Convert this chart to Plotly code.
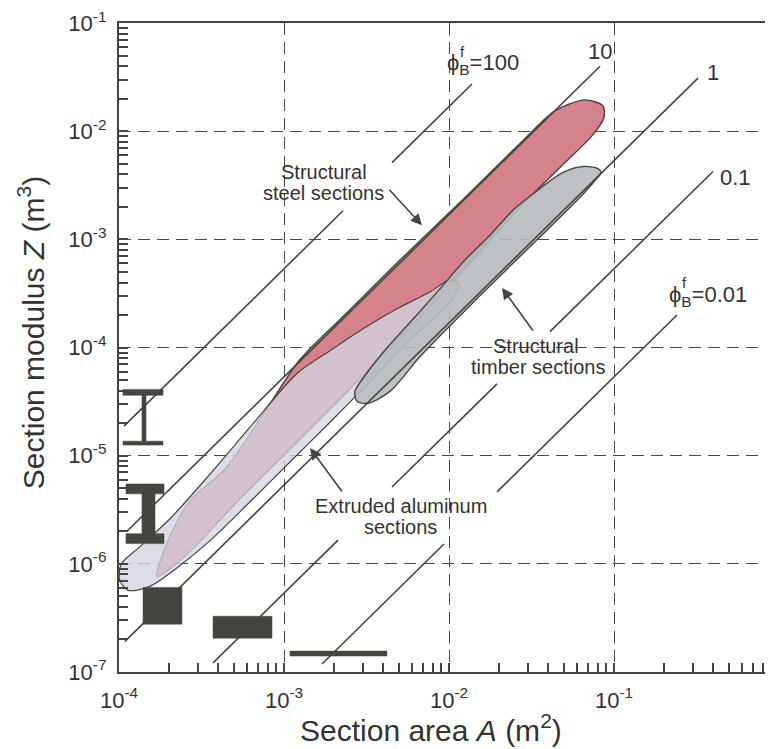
import math
import plotly.graph_objects as go

# ---------------- data ----------------
# x-range of the visible plot (log10 of A), y-range (log10 of Z)
x_log_range = [-4.0, -0.0364]
y_log_range = [-7.0, -0.998]

x_tick_vals = [1e-4, 1e-3, 1e-2, 1e-1]
x_tick_text = ["10<sup>-4</sup>", "10<sup>-3</sup>", "10<sup>-2</sup>", "10<sup>-1</sup>"]
y_tick_vals = [1e-7, 1e-6, 1e-5, 1e-4, 1e-3, 1e-2, 1e-1]
y_tick_text = ["10<sup>-7</sup>", "10<sup>-6</sup>", "10<sup>-5</sup>", "10<sup>-4</sup>",
               "10<sup>-3</sup>", "10<sup>-2</sup>", "10<sup>-1</sup>"]

# shape-factor guide lines  Z = phi * A^1.5 / line_const
phi_values = [100, 10, 1, 0.1, 0.01]
line_const = 5.9
phi100_segments = [(1.072e-4, 2.278e-3), (4.514e-3, 1.378e-2)]
phi10_segments = [(1.118e-4, 8.226e-2)]
phi1_segments = [(1.087e-4, 0.3229)]
phi01_segments = [(3.714e-4, 2.125e-3), (4.514e-3, 1.953e-2), (4.093e-2, 0.3981)]
phi001_segments = [(1.699e-3, 9.326e-3), (1.953e-2, 0.2408)]

# envelopes (log10 A, log10 Z) traced round the outline
steel_logA = [-3.770, -3.703, -3.570, -3.358, -3.115, -2.903, -2.600, -2.297, -1.933, -1.570,
              -1.358, -1.176, -1.067, -1.061, -1.133, -1.297, -1.570, -1.933, -2.297, -2.661,
              -2.964, -3.267, -3.539, -3.691]
steel_logZ = [-6.116, -5.785, -5.417, -5.123, -4.589, -4.110, -3.650, -3.190, -2.656, -2.113,
              -1.810, -1.709, -1.764, -1.874, -2.040, -2.288, -2.702, -3.319, -3.908, -4.478,
              -4.939, -5.399, -5.840, -6.043]

alu_logA = [-3.995, -3.988, -3.873, -3.691, -3.448, -3.206, -2.921, -2.721, -2.521, -2.315,
            -2.115, -1.994, -1.939, -1.994, -2.236, -2.479, -2.721, -2.964, -3.206, -3.448,
            -3.661, -3.812, -3.945]
alu_logZ = [-6.153, -6.006, -5.840, -5.583, -5.169, -4.736, -4.239, -4.028, -3.825, -3.641,
            -3.485, -3.374, -3.420, -3.577, -3.926, -4.313, -4.690, -5.058, -5.426, -5.785,
            -6.052, -6.208, -6.245]

timber_logA = [-1.097, -1.188, -1.309, -1.448, -1.600, -1.752, -1.915, -2.055, -2.194, -2.358,
               -2.491, -2.570, -2.558, -2.491, -2.358, -2.176, -1.994, -1.691, -1.388, -1.206,
               -1.115, -1.079]
timber_logZ = [-2.344, -2.325, -2.380, -2.528, -2.712, -2.960, -3.209, -3.457, -3.696, -3.972,
               -4.221, -4.405, -4.497, -4.515, -4.405, -4.083, -3.797, -3.337, -2.886, -2.610,
               -2.454, -2.380]

# I-section icons: flange A range, web A range, Z levels (top, under top flange, over bottom flange, bottom)
ibeam1_flangeA = [1.057e-4, 1.848e-4]
ibeam1_webA = [1.378e-4, 1.458e-4]
ibeam1_Z = [4.108e-5, 3.617e-5, 1.365e-5, 1.254e-5]
ibeam2_flangeA = [1.102e-4, 1.874e-4]
ibeam2_webA = [1.378e-4, 1.653e-4]
ibeam2_Z = [5.487e-6, 4.440e-6, 1.902e-6, 1.539e-6]

# solid rectangular section icons: A range, Z range
rect_A = [[1.398e-4, 2.408e-4], [3.714e-4, 8.457e-4], [1.087e-3, 4.209e-3]]
rect_Z = [[2.766e-7, 6.059e-7], [2.056e-7, 3.277e-7], [1.404e-7, 1.561e-7]]

# ---------------- styling ----------------
INK = "#45453f"
TXT = "#333331"
FONT = "Liberation Sans, Arial, Helvetica, sans-serif"

fig = go.Figure()


def closed(vals):
    return list(vals) + [vals[0]]


# envelopes: steel (red), aluminium (translucent light blue-grey on top), timber (grey)
fig.add_trace(go.Scatter(
    x=[10 ** v for v in closed(steel_logA)], y=[10 ** v for v in closed(steel_logZ)],
    mode="lines", fill="toself", fillcolor="rgb(214,130,140)",
    line=dict(color=INK, width=1.4, shape="spline", smoothing=0.8), hoverinfo="skip"))
fig.add_trace(go.Scatter(
    x=[10 ** v for v in closed(alu_logA)], y=[10 ** v for v in closed(alu_logZ)],
    mode="lines", fill="toself", fillcolor="rgba(212,212,224,0.78)",
    line=dict(color=INK, width=1.2, shape="spline", smoothing=0.8), hoverinfo="skip"))
fig.add_trace(go.Scatter(
    x=[10 ** v for v in closed(timber_logA)], y=[10 ** v for v in closed(timber_logZ)],
    mode="lines", fill="toself", fillcolor="rgba(182,186,188,0.9)",
    line=dict(color=INK, width=1.4, shape="spline", smoothing=0.8), hoverinfo="skip"))

# guide lines
all_segments = [phi100_segments, phi10_segments, phi1_segments, phi01_segments, phi001_segments]
for phi, segs in zip(phi_values, all_segments):
    xs, ys = [], []
    for a0, a1 in segs:
        for a in (a0, a1):
            xs.append(a)
            ys.append(phi * a ** 1.5 / line_const)
        xs.append(None)
        ys.append(None)
    fig.add_trace(go.Scatter(x=xs, y=ys, mode="lines", line=dict(color=INK, width=1.6),
                             hoverinfo="skip"))


# I-section icons
def ibeam(fa, wa, z):
    xs = [fa[0], fa[1], fa[1], wa[1], wa[1], fa[1], fa[1], fa[0], fa[0], wa[0], wa[0], fa[0], fa[0]]
    ys = [z[0], z[0], z[1], z[1], z[2], z[2], z[3], z[3], z[2], z[2], z[1], z[1], z[0]]
    return xs, ys


for fa, wa, z in [(ibeam1_flangeA, ibeam1_webA, ibeam1_Z), (ibeam2_flangeA, ibeam2_webA, ibeam2_Z)]:
    xs, ys = ibeam(fa, wa, z)
    fig.add_trace(go.Scatter(x=xs, y=ys, mode="lines", fill="toself", fillcolor=INK,
                             line=dict(color=INK, width=0.5), hoverinfo="skip"))

for ra, rz in zip(rect_A, rect_Z):
    fig.add_trace(go.Scatter(x=[ra[0], ra[1], ra[1], ra[0], ra[0]],
                             y=[rz[0], rz[0], rz[1], rz[1], rz[0]],
                             mode="lines", fill="toself", fillcolor=INK,
                             line=dict(color=INK, width=0.5), hoverinfo="skip"))

# ---------------- annotations ----------------
ann = []


def text(x, y, s, size=20, xanchor="center", yanchor="middle"):
    ann.append(dict(x=x, y=y, xref="x", yref="y", text=s, showarrow=False,
                    xanchor=xanchor, yanchor=yanchor,
                    font=dict(family=FONT, size=size, color=TXT)))


def arrow(x, y, ax, ay):
    ann.append(dict(x=x, y=y, xref="x", yref="y", text="", showarrow=True, ax=ax, ay=ay,
                    arrowhead=2, arrowsize=1.4, arrowwidth=1.6, arrowcolor=INK))


text(-2.758, -2.380, "Structural")
text(-2.758, -2.569, "steel sections")
text(-1.473, -3.986, "Structural")
text(-1.455, -4.180, "timber sections")
text(-2.291, -5.463, "Extruded aluminum")
text(-2.291, -5.656, "sections")

text(-2.024, -1.377, "ϕ<sub>B</sub>=100", size=22, xanchor="left")
text(-1.945, -1.262, "f", size=15, xanchor="left")
text(-1.085, -1.258, "10", size=22)
text(-0.400, -1.460, "1", size=22)
text(-0.261, -2.426, "0.1", size=22)
text(-0.679, -3.521, "ϕ<sub>B</sub>=0.01", size=22, xanchor="left")
text(-0.600, -3.398, "f", size=15, xanchor="left")

arrow(-2.164, -2.868, -34, -37)
arrow(-1.679, -3.448, 32, 44)
arrow(-2.842, -4.929, 33, 45)

# axis titles
ann.append(dict(x=0.477, y=-0.087, xref="paper", yref="paper", showarrow=False,
                text="Section area <i>A</i> (m<sup>2</sup>)", xanchor="center", yanchor="middle",
                font=dict(family=FONT, size=30, color=TXT)))
ann.append(dict(x=-0.135, y=0.523, xref="paper", yref="paper", showarrow=False, textangle=-90,
                text="Section modulus <i>Z</i> (m<sup>3</sup>)", xanchor="center", yanchor="middle",
                font=dict(family=FONT, size=30, color=TXT)))

# minor tick positions (2..9 in every decade)
x_minor = [d * 10 ** e for e in range(-4, 0) for d in range(2, 10)]
y_minor = [d * 10 ** e for e in range(-7, -1) for d in range(2, 10)]

# the page adds an 8 px body margin, so the figure is 8 px smaller and margins 8 px less
fig.update_layout(
    width=765, height=741,
    margin=dict(l=111, r=0, t=12, b=77),
    paper_bgcolor="white", plot_bgcolor="white",
    showlegend=False,
    annotations=ann,
    font=dict(family=FONT, color=TXT),
    xaxis=dict(type="log", range=x_log_range, showline=True, linecolor=INK, linewidth=2.2,
               mirror=True, tickmode="array", tickvals=x_tick_vals, ticktext=x_tick_text,
               ticks="inside", ticklen=9, tickwidth=1.5, tickcolor=INK,
               tickfont=dict(family=FONT, size=22, color=TXT), ticklabelstandoff=7,
               ticklabeloverflow="allow",
               showgrid=True, gridcolor="#4a4a44", gridwidth=1.4, griddash="12px,7px",
               zeroline=False,
               minor=dict(tickmode="array", tickvals=x_minor, ticks="inside", ticklen=9,
                          tickwidth=1.5, tickcolor=INK, showgrid=False)),
    yaxis=dict(type="log", range=y_log_range, showline=True, linecolor=INK, linewidth=2.2,
               mirror=False, tickmode="array", tickvals=y_tick_vals, ticktext=y_tick_text,
               ticks="inside", ticklen=9, tickwidth=1.5, tickcolor=INK,
               tickfont=dict(family=FONT, size=22, color=TXT), ticklabelstandoff=6,
               ticklabeloverflow="allow",
               showgrid=True, gridcolor="#4a4a44", gridwidth=1.4, griddash="12px,7px",
               zeroline=False,
               minor=dict(tickmode="array", tickvals=y_minor, ticks="inside", ticklen=9,
                          tickwidth=1.5, tickcolor=INK, showgrid=False)),
)

fig.write_html("out.html")
